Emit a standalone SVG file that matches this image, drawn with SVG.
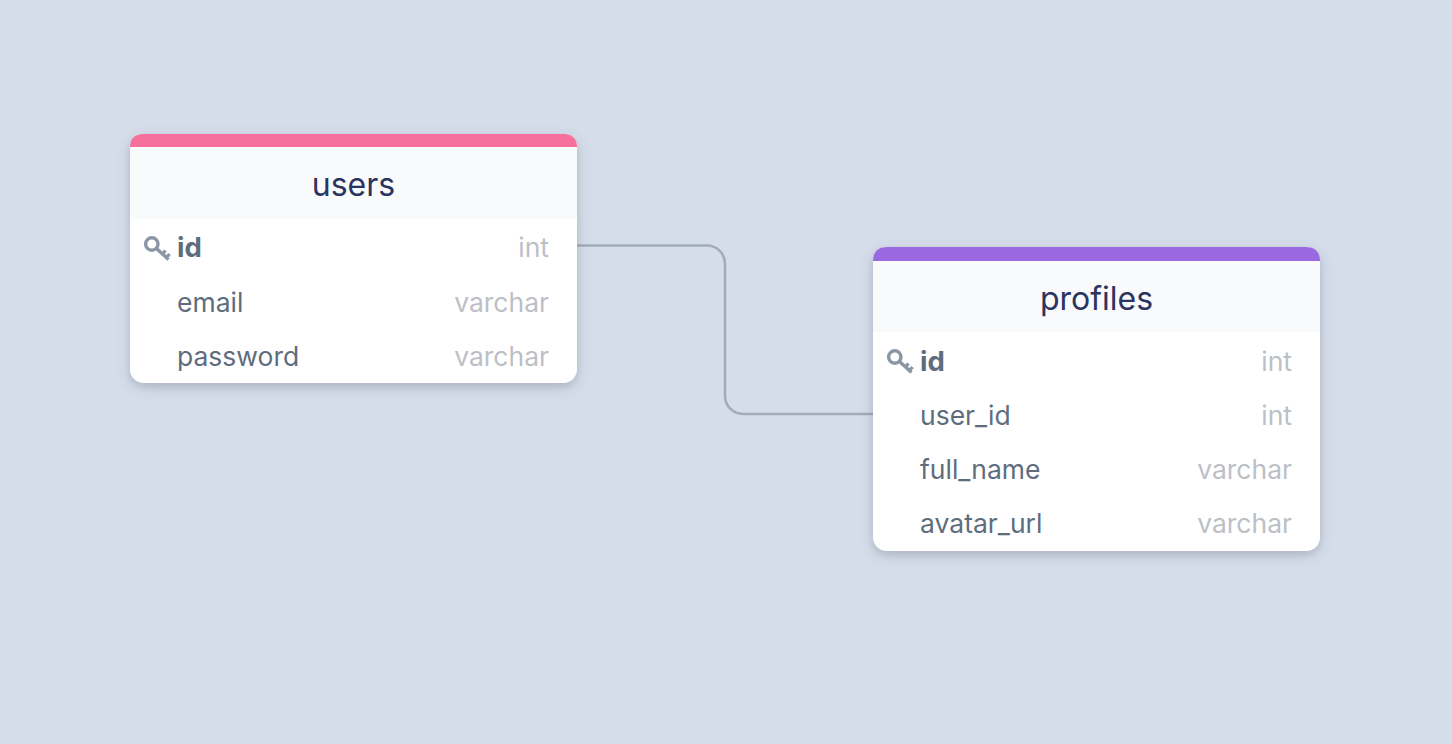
<svg xmlns="http://www.w3.org/2000/svg" width="1452" height="744" viewBox="0 0 1452 744">
<style>
text{font-family:Inter,"Liberation Sans",sans-serif}
.title{font-size:32px;fill:#2b3360;text-anchor:middle}
.col{font-size:26.500px;fill:#5e6d7e}
.pk{font-size:27.500px;font-weight:700;fill:#5e6d7e}
.type{font-size:26.500px;fill:#bcbfc6;text-anchor:end}
.conn{fill:none;stroke:#a0adb9;stroke-width:2.500}
.key{fill:none;stroke:#8a96a4;stroke-width:3.400}
.head{fill:#f8fafc}
</style>
<defs>
<filter id="shadow" x="-10%" y="-10%" width="120%" height="125%">
<feDropShadow dx="0" dy="4" stdDeviation="6" flood-color="#4a5568" flood-opacity="0.32"/>
</filter>
<g id="keyicon">
<circle cx="6.800" cy="7" r="6.200" class="key"/>
<path class="key" d="M11.500 11.500L23.500 22.500M17.500 17L20.500 13.500M21.500 20.500L24.500 17"/>
</g>
</defs>
<rect width="1452" height="744" fill="#d6ddea"/>
<g id="connectors">
<path class="conn" d="M577 245.500H707A18 18 0 0 1 725 263.500V396A18 18 0 0 0 743 414H873"/>
</g>
<g id="users">
<rect x="130" y="134" width="447" height="249" rx="14" fill="#fff" filter="url(#shadow)"/>
<path d="M130 147C130 139 135 134 143 134H564C572 134 577 139 577 147Z" fill="#f7709d"/>
<rect class="head" x="130" y="147" width="447" height="72"/>
<text class="title" x="353.500" y="196">users</text>
<use href="#keyicon" x="145" y="237"/>
<text class="pk" x="177" y="257">id</text>
<text class="type" x="549" y="257">int</text>
<text class="col" x="177" y="312">email</text>
<text class="type" x="549" y="312">varchar</text>
<text class="col" x="177" y="366">password</text>
<text class="type" x="549" y="366">varchar</text>
</g>
<g id="profiles">
<rect x="873" y="247" width="447" height="304" rx="14" fill="#fff" filter="url(#shadow)"/>
<path d="M873 261C873 252 878 247 887 247H1306C1315 247 1320 252 1320 261Z" fill="#9a68e0"/>
<rect class="head" x="873" y="261" width="447" height="71"/>
<text class="title" x="1096.500" y="310">profiles</text>
<use href="#keyicon" x="888" y="350"/>
<text class="pk" x="920" y="371">id</text>
<text class="type" x="1292" y="371">int</text>
<text class="col" x="920" y="425">user_id</text>
<text class="type" x="1292" y="425">int</text>
<text class="col" x="920" y="479">full_name</text>
<text class="type" x="1292" y="479">varchar</text>
<text class="col" x="920" y="533">avatar_url</text>
<text class="type" x="1292" y="533">varchar</text>
</g>
</svg>
